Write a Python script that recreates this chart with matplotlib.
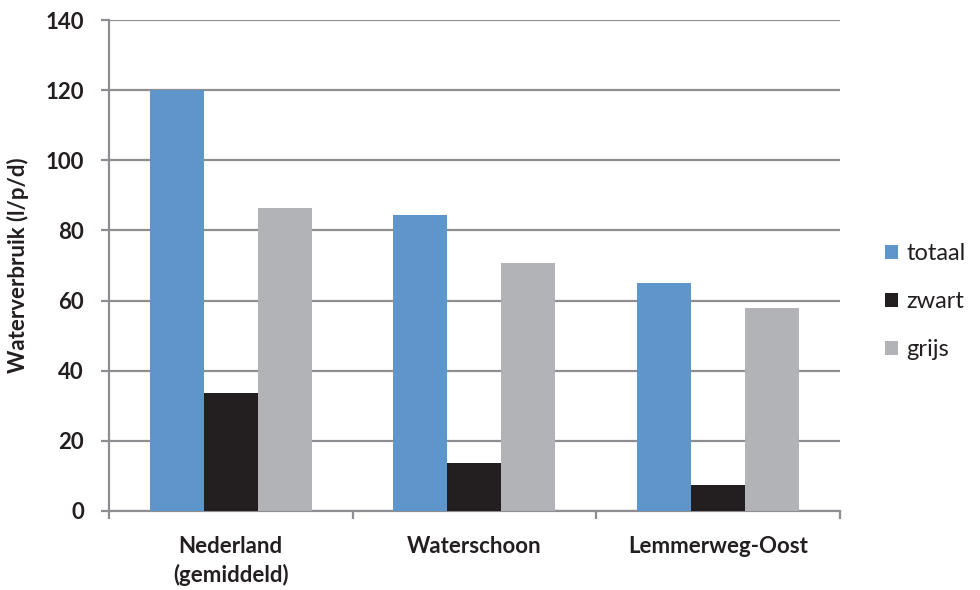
import matplotlib
matplotlib.use("Agg")
import matplotlib.pyplot as plt
import numpy as np

plt.rcParams['font.family'] = ['Lato', 'DejaVu Sans']

categories = ["Nederland\n(gemiddeld)", "Waterschoon", "Lemmerweg-Oost"]
series_names = ["totaal", "zwart", "grijs"]
totaal = [120.0, 84.5, 65.1]
zwart = [33.7, 13.7, 7.4]
grijs = [86.3, 70.8, 57.8]
y_ticks = [0, 20, 40, 60, 80, 100, 120, 140]

colors = ["#5E95CA", "#231F20", "#B2B3B6"]
grid_color = "#8E8E92"
text_color = "#231F20"

fig = plt.figure(figsize=(9.8, 5.9), dpi=100)
ax = fig.add_axes([0.1112, 0.1339, 0.7459, 0.8322])

x = np.arange(len(categories))
w = 0.2216
for i, (vals, name) in enumerate(zip([totaal, zwart, grijs], series_names)):
    ax.bar(x + (i - 1) * w, vals, width=w, color=colors[i], label=name,
           zorder=3, edgecolor="none")

ax.set_xlim(-0.5, len(categories) - 0.5)
ax.set_ylim(0, 140)
ax.set_yticks(y_ticks)
ax.set_yticklabels([str(t) for t in y_ticks], fontsize=16, fontweight="bold",
                   color=text_color)
ax.yaxis.grid(True, color=grid_color, linewidth=1.6, zorder=0)
ax.set_axisbelow(True)

ax.set_xticks(np.arange(len(categories) + 1) - 0.5)
ax.set_xticklabels([])
ax.set_xticks(x, minor=True)
ax.set_xticklabels(categories, minor=True, fontsize=16, fontweight="bold",
                   color=text_color, linespacing=1.4)
ax.tick_params(axis="x", which="minor", length=0, pad=18)
ax.tick_params(axis="x", which="major", length=6, color=grid_color, width=1.6)
ax.tick_params(axis="y", length=6, color=grid_color, width=1.6, pad=12)

for s in ["top", "right"]:
    ax.spines[s].set_visible(False)
for s in ["left", "bottom"]:
    ax.spines[s].set_color(grid_color)
    ax.spines[s].set_linewidth(1.6)

ax.set_ylabel("Waterverbruik (l/p/d)", fontsize=16, fontweight="bold",
              color=text_color)
ax.yaxis.set_label_coords(-0.109, 0.5)

leg = ax.legend(loc="center left", bbox_to_anchor=(1.046, 0.426), frameon=False,
                fontsize=17, handlelength=0.55, handleheight=0.55,
                handletextpad=0.35, labelspacing=1.15, borderpad=0)
for t in leg.get_texts():
    t.set_color(text_color)

fig.savefig("out.png", dpi=100)
